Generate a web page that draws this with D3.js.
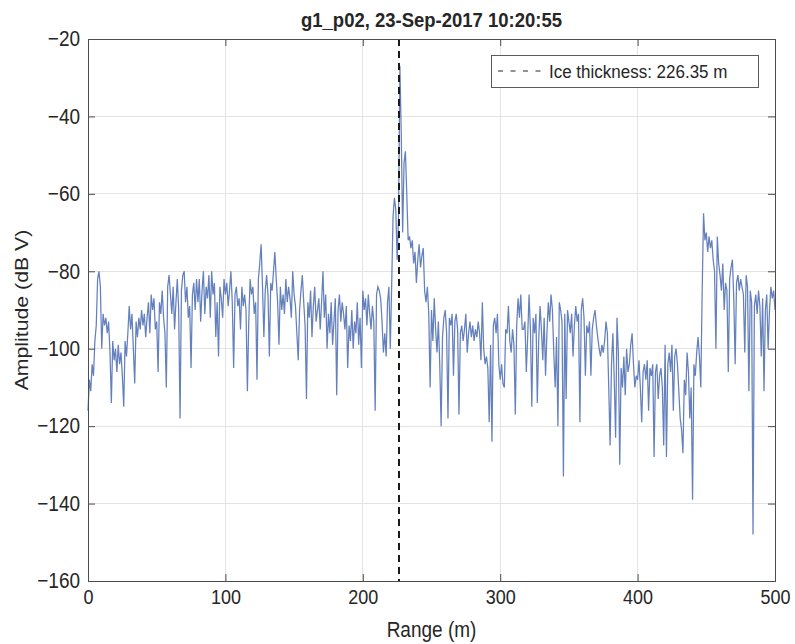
<!DOCTYPE html>
<html>
<head>
<meta charset="utf-8">
<script src="https://cdn.jsdelivr.net/npm/d3@7"></script>
<style>
  html, body { margin: 0; padding: 0; background: #fff; }
  svg { display: block; }
  text { font-family: "Liberation Sans", Arial, Helvetica, sans-serif; fill: #262626; }
</style>
</head>
<body>
<svg id="chart" width="795" height="644"></svg>
<script>
// ---- data ----
const titleText = "g1_p02, 23-Sep-2017 10:20:55";
const xLabelText = "Range (m)";
const yLabelText = "Amplitude (dB V)";
const legendText = "Ice thickness: 226.35 m";
const iceThickness = 226.35;          // m
const rangeStart = 0, rangeStep = 1;  // sample grid of the trace (m)
const xTicks = [0, 100, 200, 300, 400, 500];
const yTicks = [-160, -140, -120, -100, -80, -60, -40, -20];
const amplitude = [
  -116, -108, -111, -104, -107, -98, -94, -82, -80, -84,
  -100, -91, -94, -92, -96, -93, -101, -114, -98, -103,
  -100, -106, -99, -104, -101, -107, -115, -98, -102, -96,
  -89, -95, -91, -100, -109, -93, -97, -92, -95, -90,
  -94, -91, -97, -92, -88, -96, -86, -90, -87, -95,
  -93, -106, -88, -91, -85, -92, -96, -110, -84, -81,
  -86, -91, -84, -95, -88, -82, -90, -118, -85, -81,
  -80, -88, -84, -92, -89, -105, -86, -83, -90, -82,
  -88, -82, -93, -85, -80, -91, -84, -87, -81, -92,
  -80, -86, -83, -97, -88, -102, -84, -87, -92, -82,
  -86, -83, -89, -85, -80, -88, -105, -86, -84, -89,
  -87, -95, -84, -89, -86, -90, -111, -93, -82, -86,
  -84, -91, -88, -108, -82, -78, -73, -84, -97, -85,
  -81, -86, -102, -83, -85, -80, -75, -82, -88, -99,
  -84, -90, -86, -91, -82, -88, -84, -87, -92, -80,
  -86, -89, -96, -103, -90, -85, -81, -88, -94, -113,
  -88, -92, -85, -97, -89, -84, -93, -90, -87, -95,
  -88, -80, -92, -86, -100, -91, -96, -88, -99, -93,
  -87, -112, -90, -86, -93, -88, -91, -95, -89, -105,
  -94, -98, -90, -100, -93, -96, -88, -99, -92, -105,
  -85, -90, -87, -94, -86, -91, -95, -89, -93, -116,
  -86, -84, -85, -87, -93, -101, -96, -102, -88, -84,
  -100, -84, -66, -61, -64, -77, -66, -27, -45, -70,
  -52, -49, -60, -72, -71, -74, -72, -78, -75, -83,
  -77, -73, -79, -76, -74, -85, -88, -84, -91, -110,
  -90, -98, -87, -95, -101, -93, -104, -120, -97, -92,
  -90, -96, -118, -92, -94, -91, -107, -93, -91, -95,
  -117, -96, -94, -98, -95, -91, -101, -96, -93, -97,
  -94, -98, -95, -97, -93, -96, -103, -88, -100, -104,
  -102, -105, -119, -99, -124, -94, -92, -96, -91, -104,
  -108, -104, -109, -110, -95, -96, -89, -98, -101, -95,
  -99, -117, -94, -87, -92, -86, -95, -95, -93, -106,
  -97, -86, -95, -115, -92, -96, -91, -114, -98, -89,
  -95, -103, -92, -107, -96, -88, -93, -86, -90, -101,
  -110, -97, -120, -88, -90, -93, -133, -91, -113, -90,
  -93, -96, -91, -102, -94, -89, -93, -91, -119, -90,
  -87, -92, -107, -94, -96, -93, -107, -95, -92, -90,
  -94, -97, -100, -102, -99, -101, -98, -93, -96, -110,
  -125, -104, -96, -108, -123, -92, -101, -130, -105, -110,
  -102, -112, -100, -106, -104, -99, -96, -104, -110, -107,
  -108, -103, -110, -119, -106, -104, -108, -103, -116, -105,
  -107, -104, -128, -106, -104, -113, -107, -105, -110, -125,
  -99, -128, -104, -101, -106, -99, -116, -102, -100, -104,
  -111, -118, -121, -127, -108, -112, -101, -106, -118, -110,
  -139, -104, -107, -101, -97, -102, -110, -85, -65, -72,
  -70, -75, -71, -74, -72, -77, -80, -100, -71, -78,
  -81, -85, -78, -90, -83, -85, -106, -82, -79, -77,
  -87, -104, -83, -81, -85, -82, -84, -86, -101, -81,
  -84, -111, -85, -88, -148, -89, -86, -91, -85, -89,
  -102, -87, -111, -90, -86, -100, -90, -84, -87, -85, -90
];

// ---- layout ----
const W = 795, H = 644;
const plot = { left: 88, right: 775, top: 39, bottom: 581 };
const textStretch = 1.12;
const axisColor = "#4d4d4d";

const svg = d3.select("#chart");
const x = d3.scaleLinear().domain([0, 500]).range([plot.left, plot.right]);
const y = d3.scaleLinear().domain([-160, -20]).range([plot.bottom, plot.top]);

// grid
const grid = svg.append("g");
grid.selectAll("line.gx").data(xTicks).join("line")
  .attr("x1", d => x(d)).attr("x2", d => x(d))
  .attr("y1", plot.top).attr("y2", plot.bottom)
  .attr("stroke", "#e3e3e3").attr("stroke-width", 1).attr("shape-rendering", "crispEdges");
grid.selectAll("line.gy").data(yTicks).join("line")
  .attr("y1", d => y(d)).attr("y2", d => y(d))
  .attr("x1", plot.left).attr("x2", plot.right)
  .attr("stroke", "#e3e3e3").attr("stroke-width", 1).attr("shape-rendering", "crispEdges");

// trace
const line = d3.line()
  .x((d, i) => x(rangeStart + i * rangeStep))
  .y(d => y(d));
svg.append("path").datum(amplitude)
  .attr("d", line)
  .attr("fill", "none")
  .attr("stroke", "#6480bd")
  .attr("stroke-width", 1.25)
  .attr("stroke-linejoin", "miter");

// ice thickness marker
svg.append("line")
  .attr("x1", x(iceThickness)).attr("x2", x(iceThickness))
  .attr("y1", plot.top).attr("y2", plot.bottom)
  .attr("stroke", "#1a1a1a").attr("stroke-width", 2)
  .attr("stroke-dasharray", "7,5");

// axes
function styleAxis(g, showText, size) {
  g.select(".domain").remove();
  g.selectAll(".tick line").attr("stroke", axisColor);
  if (!showText) g.selectAll(".tick text").remove();
  g.selectAll(".tick text")
    .attr("fill", "#262626")
    .style("font-size", size + "px")
    .attr("transform", `scale(1,${textStretch})`);
}
svg.append("g").attr("transform", `translate(0,${plot.bottom})`)
  .call(d3.axisBottom(x).tickValues(xTicks).tickSizeInner(-7).tickSizeOuter(0).tickPadding(8).tickFormat(d3.format("d")))
  .call(g => styleAxis(g, true, 18));
svg.append("g").attr("transform", `translate(0,${plot.top})`)
  .call(d3.axisTop(x).tickValues(xTicks).tickSizeInner(-7).tickSizeOuter(0))
  .call(g => styleAxis(g, false, 18));
svg.append("g").attr("transform", `translate(${plot.left},0)`)
  .call(d3.axisLeft(y).tickValues(yTicks).tickSizeInner(-7).tickSizeOuter(0).tickPadding(8).tickFormat(d3.format("d")))
  .call(g => styleAxis(g, true, 19));
svg.append("g").attr("transform", `translate(${plot.right},0)`)
  .call(d3.axisRight(y).tickValues(yTicks).tickSizeInner(-7).tickSizeOuter(0))
  .call(g => styleAxis(g, false, 18));

// box
svg.append("rect")
  .attr("x", plot.left).attr("y", plot.top)
  .attr("width", plot.right - plot.left).attr("height", plot.bottom - plot.top)
  .attr("fill", "none").attr("stroke", axisColor).attr("stroke-width", 1)
  .attr("shape-rendering", "crispEdges");

// title and labels
svg.append("text")
  .attr("transform", `translate(${(plot.left + plot.right) / 2},27) scale(1,${textStretch})`)
  .attr("text-anchor", "middle")
  .style("font-size", "18.5px").style("font-weight", "bold")
  .attr("fill", "#000")
  .text(titleText);
svg.append("text")
  .attr("transform", `translate(${(plot.left + plot.right) / 2},637) scale(1,${textStretch})`)
  .attr("text-anchor", "middle")
  .style("font-size", "19px")
  .text(xLabelText);
svg.append("text")
  .attr("transform", `translate(28,${(plot.top + plot.bottom) / 2}) rotate(-90) scale(${textStretch},1)`)
  .attr("text-anchor", "middle")
  .style("font-size", "19px")
  .text(yLabelText);

// legend
const lg = svg.append("g");
lg.append("rect")
  .attr("x", 491).attr("y", 55).attr("width", 267).attr("height", 32)
  .attr("fill", "#fff").attr("stroke", "#333").attr("stroke-width", 0.8)
  .attr("shape-rendering", "crispEdges");
lg.append("line")
  .attr("x1", 498).attr("x2", 541).attr("y1", 71).attr("y2", 71)
  .attr("stroke", "#262626").attr("stroke-width", 1.2)
  .attr("stroke-dasharray", "5,7.5");
lg.append("text")
  .attr("transform", `translate(549,78) scale(1,${textStretch})`)
  .style("font-size", "17px")
  .text(legendText);
</script>
</body>
</html>
